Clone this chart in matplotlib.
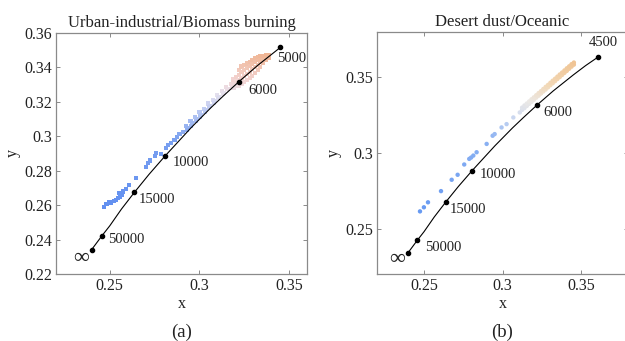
import matplotlib
matplotlib.use("Agg")
import matplotlib.pyplot as plt
from matplotlib.colors import LinearSegmentedColormap, Normalize

# ---------------- data ----------------
# Planckian locus points (x, y), from infinity downward in CCT
locus_a_x = [0.2399, 0.2457, 0.2500, 0.2565, 0.2637, 0.2719, 0.2807, 0.2952, 0.3064, 0.3135, 0.3221, 0.3324, 0.3451]
locus_a_y = [0.2342, 0.2423, 0.2480, 0.2577, 0.2674, 0.2779, 0.2884, 0.3048, 0.3166, 0.3236, 0.3318, 0.3411, 0.3516]
locus_b_x = locus_a_x + [0.3530, 0.3610]
locus_b_y = locus_a_y + [0.3578, 0.3635]

marks_a_x = [0.2399, 0.2457, 0.2637, 0.2807, 0.3221, 0.3451]
marks_a_y = [0.2342, 0.2423, 0.2674, 0.2884, 0.3318, 0.3516]
marks_a_lbl = ["\u221e", "50000", "15000", "10000", "6000", "5000"]

marks_b_x = [0.2399, 0.2457, 0.2637, 0.2807, 0.3221, 0.3610]
marks_b_y = [0.2342, 0.2423, 0.2674, 0.2884, 0.3318, 0.3635]
marks_b_lbl = ["\u221e", "50000", "15000", "10000", "6000", "4500"]

# scatter measurements, panel (a)
pts_a_x = [0.2467, 0.2482, 0.2496, 0.2509, 0.2522, 0.2533, 0.2546, 0.2559, 0.2570, 0.2552,
           0.2574, 0.2589, 0.2607, 0.2648, 0.2704, 0.2713, 0.2722, 0.2750, 0.2759, 0.2787,
           0.2815, 0.2824, 0.2843, 0.2861, 0.2874, 0.2889, 0.2907,
           0.2925, 0.2935, 0.2950, 0.2960, 0.2975, 0.2985, 0.3000, 0.3010, 0.3025, 0.3035,
           0.3050, 0.3060, 0.3075, 0.3085, 0.3100, 0.3110, 0.3125, 0.3135, 0.3150, 0.3160,
           0.3175, 0.3185,
           0.2930, 0.2955, 0.2980, 0.3005, 0.3030, 0.3055, 0.3080, 0.3105, 0.3130, 0.3155, 0.3180,
           0.3190, 0.3190, 0.3190, 0.3205, 0.3205, 0.3205,
           0.3220, 0.3220, 0.3220, 0.3220, 0.3235, 0.3235, 0.3235, 0.3235,
           0.3250, 0.3250, 0.3250, 0.3250, 0.3265, 0.3265, 0.3265, 0.3265,
           0.3280, 0.3280, 0.3280, 0.3280, 0.3295, 0.3295, 0.3295, 0.3295,
           0.3310, 0.3310, 0.3310, 0.3310, 0.3325, 0.3325, 0.3325, 0.3325,
           0.3340, 0.3340, 0.3340, 0.3340, 0.3355, 0.3355, 0.3355,
           0.3370, 0.3370, 0.3370, 0.3385, 0.3385]
pts_a_y = [0.2591, 0.2607, 0.2620, 0.2615, 0.2626, 0.2630, 0.2640, 0.2650, 0.2659, 0.2669,
           0.2679, 0.2692, 0.2717, 0.2756, 0.2820, 0.2844, 0.2859, 0.2886, 0.2902, 0.2898,
           0.2931, 0.2950, 0.2960, 0.2979, 0.2995, 0.3014, 0.3027,
           0.3060, 0.3050, 0.3088, 0.3078, 0.3110, 0.3101, 0.3140, 0.3125, 0.3160, 0.3152,
           0.3190, 0.3178, 0.3212, 0.3203, 0.3238, 0.3228, 0.3262, 0.3252, 0.3285, 0.3275,
           0.3305, 0.3300,
           0.3035, 0.3062, 0.3088, 0.3115, 0.3142, 0.3168, 0.3195, 0.3222, 0.3248, 0.3274, 0.3295,
           0.3280, 0.3305, 0.3330, 0.3290, 0.3320, 0.3345,
           0.3295, 0.3325, 0.3355, 0.3385, 0.3305, 0.3340, 0.3372, 0.3405,
           0.3315, 0.3350, 0.3385, 0.3412, 0.3325, 0.3362, 0.3397, 0.3423,
           0.3338, 0.3375, 0.3408, 0.3433, 0.3352, 0.3390, 0.3422, 0.3443,
           0.3368, 0.3402, 0.3432, 0.3453, 0.3385, 0.3415, 0.3442, 0.3460,
           0.3402, 0.3430, 0.3452, 0.3467, 0.3425, 0.3448, 0.3468,
           0.3442, 0.3462, 0.3474, 0.3458, 0.3474]

# scatter measurements, panel (b)
pts_b_x = [0.2474, 0.2499, 0.2525, 0.2608, 0.2676, 0.2714, 0.2756, 0.2788, 0.2800, 0.2814,
           0.2835, 0.2899, 0.2937, 0.2950, 0.2994, 0.3026, 0.3069, 0.3110,
           0.3125, 0.3125, 0.3140, 0.3140, 0.3155, 0.3155, 0.3170, 0.3170, 0.3185, 0.3185,
           0.3200, 0.3200, 0.3215, 0.3215, 0.3230, 0.3230, 0.3245, 0.3245, 0.3260, 0.3260,
           0.3275, 0.3275, 0.3290, 0.3290, 0.3305, 0.3305, 0.3320, 0.3320, 0.3335, 0.3335,
           0.3350, 0.3350, 0.3365, 0.3365, 0.3380, 0.3380, 0.3395, 0.3395, 0.3410, 0.3410,
           0.3425, 0.3425, 0.3440, 0.3440, 0.3455, 0.3455]
pts_b_y = [0.2614, 0.2641, 0.2674, 0.2748, 0.2823, 0.2856, 0.2924, 0.2961, 0.2970, 0.2983,
           0.3005, 0.3060, 0.3114, 0.3125, 0.3169, 0.3191, 0.3235, 0.3268,
           0.3285, 0.3300, 0.3297, 0.3314, 0.3311, 0.3327, 0.3325, 0.3341, 0.3338, 0.3355,
           0.3352, 0.3368, 0.3366, 0.3382, 0.3379, 0.3396, 0.3393, 0.3409, 0.3407, 0.3423,
           0.3420, 0.3437, 0.3434, 0.3450, 0.3448, 0.3464, 0.3461, 0.3478, 0.3475, 0.3491,
           0.3489, 0.3505, 0.3502, 0.3519, 0.3516, 0.3532, 0.3530, 0.3546, 0.3543, 0.3560,
           0.3557, 0.3573, 0.3571, 0.3587, 0.3584, 0.3598]

titles = ["Urban-industrial/Biomass burning", "Desert dust/Oceanic"]
panel_tags = ["(a)", "(b)"]
xticks = [0.25, 0.30, 0.35]
xtick_lbls = ["0.25", "0.3", "0.35"]
yticks_a = [0.22, 0.24, 0.26, 0.28, 0.30, 0.32, 0.34, 0.36]
ytick_a_lbls = ["0.22", "0.24", "0.26", "0.28", "0.3", "0.32", "0.34", "0.36"]
yticks_b = [0.25, 0.30, 0.35]
ytick_b_lbls = ["0.25", "0.3", "0.35"]

# ---------------- style ----------------
plt.rcParams['font.family'] = ['Liberation Serif', 'DejaVu Serif']

cmap_a = LinearSegmentedColormap.from_list("a", [
    (0.00, (0.38, 0.56, 0.94)),
    (0.45, (0.48, 0.63, 0.94)),
    (0.62, (0.72, 0.78, 0.95)),
    (0.74, (0.90, 0.88, 0.93)),
    (0.82, (0.95, 0.84, 0.84)),
    (1.00, (0.94, 0.71, 0.58)),
])
cmap_b = LinearSegmentedColormap.from_list("b", [
    (0.00, (0.40, 0.60, 0.95)),
    (0.50, (0.55, 0.70, 0.95)),
    (0.65, (0.82, 0.86, 0.94)),
    (0.74, (0.92, 0.91, 0.90)),
    (0.85, (0.95, 0.85, 0.72)),
    (1.00, (0.94, 0.77, 0.58)),
])

W, H = 625, 341
fig = plt.figure(figsize=(W / 100, H / 100), dpi=100)
ax_a = fig.add_axes([56 / W, (H - 274) / H, 251 / W, 241 / H])
ax_b = fig.add_axes([377 / W, (H - 274) / H, 251 / W, 242 / H])

spine_col = "#8a8a8a"
text_col = "#222222"

def style(ax, yt, ytl, ylim, xmax):
    ax.set_xlim(0.22, xmax)
    ax.set_ylim(*ylim)
    ax.set_xticks(xticks)
    ax.set_xticklabels(xtick_lbls)
    ax.set_yticks(yt)
    ax.set_yticklabels(ytl)
    for s in ax.spines.values():
        s.set_color(spine_col)
        s.set_linewidth(0.9)
    ax.tick_params(direction="in", length=3, width=0.7, color=spine_col,
                   top=True, right=True, labelsize=11.5, labelcolor=text_col, pad=3)
    ax.set_xlabel("x", fontsize=11.5, color=text_col, labelpad=1)
    ax.set_ylabel("y", fontsize=11.5, color=text_col, labelpad=2)

style(ax_a, yticks_a, ytick_a_lbls, (0.22, 0.36), 0.36)
style(ax_b, yticks_b, ytick_b_lbls, (0.22, 0.38), 0.38)

ax_a.scatter(pts_a_x, pts_a_y, c=pts_a_y, cmap=cmap_a, norm=Normalize(0.258, 0.348),
             marker="s", s=9, linewidths=0, zorder=2)
ax_b.scatter(pts_b_x, pts_b_y, c=pts_b_y, cmap=cmap_b, norm=Normalize(0.260, 0.360),
             marker="o", s=10, linewidths=0, zorder=2)

ax_a.plot(locus_a_x, locus_a_y, color="black", lw=0.8, zorder=3)
ax_b.plot(locus_b_x, locus_b_y, color="black", lw=0.8, zorder=3)
ax_a.plot(marks_a_x, marks_a_y, "o", color="black", ms=3.0, zorder=4)
ax_b.plot(marks_b_x, marks_b_y, "o", color="black", ms=3.0, zorder=4)

# label offsets in pixels (dx, dy), alignment
offs_a = [(-11, -9, "center"), (6, -4, "left"), (4, -7, "left"), (8, -6, "left"), (9, -9, "left"), (-3, -11, "left")]
offs_b = [(-11, -7, "center"), (8, -7, "left"), (4, -7, "left"), (7, -4, "left"), (6, -8, "left"), (5, 14, "center")]

for ax, xs, ys, lbls, offs in [(ax_a, marks_a_x, marks_a_y, marks_a_lbl, offs_a),
                               (ax_b, marks_b_x, marks_b_y, marks_b_lbl, offs_b)]:
    for x, y, l, (dx, dy, ha) in zip(xs, ys, lbls, offs):
        fs = 16 if l == "\u221e" else 10.5
        ax.annotate(l, (x, y), xytext=(dx, dy), textcoords="offset pixels",
                    ha=ha, va="center", fontsize=fs, color=text_col, zorder=5)

ax_a.set_title(titles[0], fontsize=12, color=text_col, pad=4)
ax_b.set_title(titles[1], fontsize=12, color=text_col, pad=4)

fig.text(181.5 / W, 1 - 332 / H, panel_tags[0], ha="center", va="center", fontsize=13.5, color=text_col)
fig.text(502 / W, 1 - 332 / H, panel_tags[1], ha="center", va="center", fontsize=13.5, color=text_col)

fig.savefig("out.png", dpi=100)
